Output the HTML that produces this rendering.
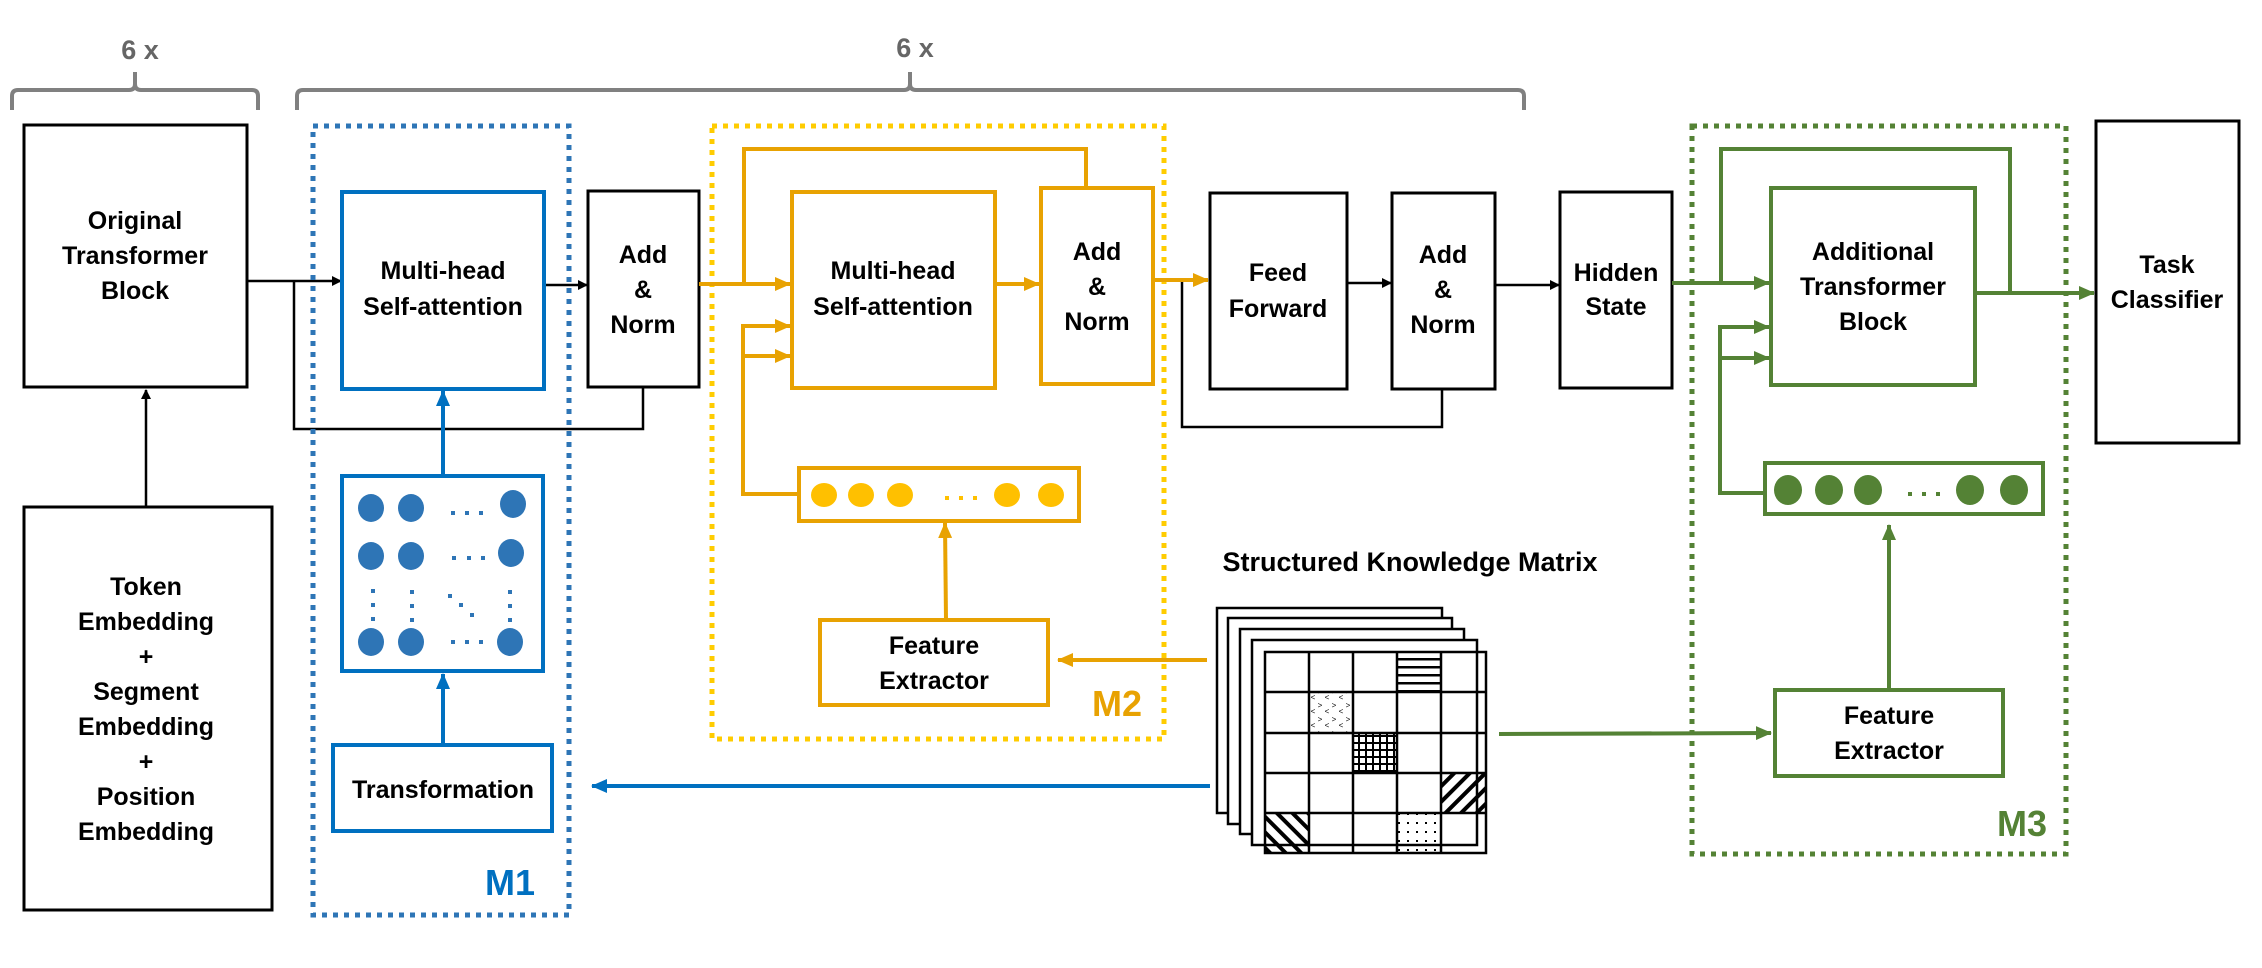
<!DOCTYPE html>
<html><head><meta charset="utf-8"><style>
html,body{margin:0;padding:0;background:#fff;}
svg{display:block;}
text{font-family:"Liberation Sans",sans-serif;font-weight:bold;text-anchor:middle;}
</style></head><body>
<svg width="2262" height="968" viewBox="0 0 2262 968" xmlns="http://www.w3.org/2000/svg">
<defs>
<marker id="ak" markerWidth="10" markerHeight="10" refX="9" refY="5" orient="auto" markerUnits="userSpaceOnUse"><path d="M0,0 L10,5 L0,10 z" fill="#000"/></marker>
<marker id="ab" markerWidth="16" markerHeight="14" refX="15" refY="7" orient="auto" markerUnits="userSpaceOnUse"><path d="M0,0 L16,7 L0,14 z" fill="#0070c0"/></marker>
<marker id="ao" markerWidth="16" markerHeight="14" refX="15" refY="7" orient="auto" markerUnits="userSpaceOnUse"><path d="M0,0 L16,7 L0,14 z" fill="#e8a202"/></marker>
<marker id="ag" markerWidth="16" markerHeight="14" refX="15" refY="7" orient="auto" markerUnits="userSpaceOnUse"><path d="M0,0 L16,7 L0,14 z" fill="#548235"/></marker>
<pattern id="phl" width="8" height="8" patternUnits="userSpaceOnUse"><rect width="8" height="2.5" y="2" fill="#000"/></pattern>
<pattern id="pgrid" width="7" height="7" patternUnits="userSpaceOnUse"><rect width="7" height="2" fill="#000"/><rect width="2" height="7" fill="#000"/></pattern>
<pattern id="pd1" width="11" height="11" patternUnits="userSpaceOnUse" patternTransform="rotate(45)"><rect width="11" height="4" fill="#000"/></pattern>
<pattern id="pd2" width="11" height="11" patternUnits="userSpaceOnUse" patternTransform="rotate(-45)"><rect width="11" height="4" fill="#000"/></pattern>
<pattern id="pdot" width="9" height="9" patternUnits="userSpaceOnUse"><rect x="3" y="3" width="2" height="2" fill="#000"/></pattern>
<pattern id="pchev" width="14" height="14" patternUnits="userSpaceOnUse"><text x="4" y="8" style="font-size:8px;font-weight:normal">&gt;</text><text x="11" y="14" style="font-size:8px;font-weight:normal">&lt;</text></pattern>
</defs>

<g fill="none" stroke="#808080" stroke-width="4">
<path d="M12,110 V96 Q12,90 18,90 H129 Q135,90 135,84 V72 M135,84 Q135,90 141,90 H252 Q258,90 258,96 V110"/>
<path d="M297,110 V96 Q297,90 303,90 H904 Q910,90 910,84 V72 M910,84 Q910,90 916,90 H1518 Q1524,90 1524,96 V110"/>
</g>
<text x="140" y="59" fill="#666" style="font-size:27px">6 x</text>
<text x="915" y="57" fill="#666" style="font-size:27px">6 x</text>

<g fill="none" stroke="#000" stroke-width="3">
<rect x="24" y="125" width="223" height="262"/>
<rect x="24" y="507" width="248" height="403"/>
<rect x="588" y="191" width="111" height="196"/>
<rect x="1210" y="193" width="137" height="196"/>
<rect x="1392" y="193" width="103" height="196"/>
<rect x="1560" y="192" width="112" height="196"/>
<rect x="2096" y="121" width="143" height="322"/>
</g>
<g style="font-size:25px" fill="#000">
<text x="135" y="229">Original</text><text x="135" y="264">Transformer</text><text x="135" y="299">Block</text>
<text x="146" y="595">Token</text><text x="146" y="630">Embedding</text><text x="146" y="665">+</text><text x="146" y="700">Segment</text><text x="146" y="735">Embedding</text><text x="146" y="770">+</text><text x="146" y="805">Position</text><text x="146" y="840">Embedding</text>
<text x="643" y="263">Add</text><text x="643" y="298">&amp;</text><text x="643" y="333">Norm</text>
<text x="1278" y="281">Feed</text><text x="1278" y="317">Forward</text>
<text x="1443" y="263">Add</text><text x="1443" y="298">&amp;</text><text x="1443" y="333">Norm</text>
<text x="1616" y="281">Hidden</text><text x="1616" y="315">State</text>
<text x="2167" y="273">Task</text><text x="2167" y="308">Classifier</text>
</g>

<g fill="none" stroke="#000" stroke-width="2.5">
<line x1="146" y1="507" x2="146" y2="390" marker-end="url(#ak)"/>
<line x1="247" y1="281" x2="341" y2="281" marker-end="url(#ak)"/>
<polyline points="294,281 294,429 643,429 643,387"/>
<line x1="544" y1="285" x2="587" y2="285" marker-end="url(#ak)"/>
<polyline points="1182,280 1182,427 1442,427 1442,389"/>
<line x1="1347" y1="283" x2="1391" y2="283" marker-end="url(#ak)"/>
<line x1="1495" y1="285" x2="1559" y2="285" marker-end="url(#ak)"/>
</g>

<rect x="313" y="126" width="256" height="789" fill="none" stroke="#2e75b6" stroke-width="5" stroke-dasharray="5,6"/>
<g fill="none" stroke="#0070c0" stroke-width="4">
<rect x="342" y="192" width="202" height="197"/>
<rect x="342" y="476" width="201" height="195"/>
<rect x="333" y="745" width="219" height="86"/>
<line x1="443" y1="476" x2="443" y2="391" marker-end="url(#ab)"/>
<line x1="443" y1="745" x2="443" y2="674" marker-end="url(#ab)"/>
<line x1="1210" y1="786" x2="592" y2="786" marker-end="url(#ab)"/>
</g>
<g style="font-size:25px" fill="#000">
<text x="443" y="279">Multi-head</text><text x="443" y="315">Self-attention</text>
<text x="443" y="798">Transformation</text>
</g>
<text x="510" y="895" fill="#0070c0" style="font-size:36px">M1</text>
<g fill="#2e75b6">
<ellipse cx="371" cy="508" rx="13" ry="14"/><ellipse cx="411" cy="508" rx="13" ry="14"/><ellipse cx="513" cy="504" rx="13" ry="14"/>
<ellipse cx="371" cy="556" rx="13" ry="14"/><ellipse cx="411" cy="556" rx="13" ry="14"/><ellipse cx="511" cy="553" rx="13" ry="14"/>
<ellipse cx="371" cy="642" rx="13" ry="14"/><ellipse cx="411" cy="642" rx="13" ry="14"/><ellipse cx="510" cy="642" rx="13" ry="14"/>
<rect x="451" y="511" width="4" height="4"/><rect x="465" y="511" width="4" height="4"/><rect x="479" y="511" width="4" height="4"/>
<rect x="452" y="556" width="4" height="4"/><rect x="467" y="556" width="4" height="4"/><rect x="481" y="556" width="4" height="4"/>
<rect x="451" y="640" width="4" height="4"/><rect x="465" y="640" width="4" height="4"/><rect x="479" y="640" width="4" height="4"/>
<rect x="371" y="589" width="4" height="4"/><rect x="371" y="603" width="4" height="4"/><rect x="371" y="617" width="4" height="4"/>
<rect x="410" y="590" width="4" height="4"/><rect x="410" y="604" width="4" height="4"/><rect x="410" y="618" width="4" height="4"/>
<rect x="508" y="590" width="4" height="4"/><rect x="508" y="604" width="4" height="4"/><rect x="508" y="618" width="4" height="4"/>
<rect x="448" y="594" width="4" height="4"/><rect x="459" y="603" width="4" height="4"/><rect x="470" y="613" width="4" height="4"/>
</g>

<rect x="712" y="126" width="452" height="613" fill="none" stroke="#ffcc00" stroke-width="5" stroke-dasharray="5,6"/>
<g fill="none" stroke="#e8a202" stroke-width="4">
<rect x="792" y="192" width="203" height="196"/>
<rect x="1041" y="188" width="112" height="196"/>
<rect x="799" y="468" width="280" height="53"/>
<rect x="820" y="620" width="228" height="85"/>
<line x1="699" y1="284" x2="790" y2="284" marker-end="url(#ao)"/>
<polyline points="744,284 744,149 1086,149 1086,188"/>
<line x1="995" y1="284" x2="1039" y2="284" marker-end="url(#ao)"/>
<polyline points="799,494 743,494 743,326 790,326" marker-end="url(#ao)"/>
<line x1="743" y1="356" x2="790" y2="356" marker-end="url(#ao)"/>
<line x1="946" y1="620" x2="945" y2="523" marker-end="url(#ao)"/>
<line x1="1207" y1="660" x2="1058" y2="660" marker-end="url(#ao)"/>
<line x1="1153" y1="280" x2="1208" y2="280" marker-end="url(#ao)"/>
</g>
<g style="font-size:25px" fill="#000">
<text x="893" y="279">Multi-head</text><text x="893" y="315">Self-attention</text>
<text x="1097" y="260">Add</text><text x="1097" y="295">&amp;</text><text x="1097" y="330">Norm</text>
<text x="934" y="654">Feature</text><text x="934" y="689">Extractor</text>
</g>
<text x="1117" y="716" fill="#e8a202" style="font-size:36px">M2</text>
<g fill="#ffc000">
<ellipse cx="824" cy="495" rx="13" ry="12"/><ellipse cx="861" cy="495" rx="13" ry="12"/><ellipse cx="900" cy="495" rx="13" ry="12"/>
<ellipse cx="1007" cy="495" rx="13" ry="12"/><ellipse cx="1051" cy="495" rx="13" ry="12"/>
<rect x="945" y="496" width="4" height="4"/><rect x="959" y="496" width="4" height="4"/><rect x="973" y="496" width="4" height="4"/>
</g>

<text x="1410" y="571" fill="#000" style="font-size:27px">Structured Knowledge Matrix</text>
<g stroke="#000" stroke-width="2.5" fill="#fff">
<rect x="1217" y="608" width="225" height="205"/>
<rect x="1228" y="618" width="224" height="206"/>
<rect x="1240" y="629" width="224" height="205"/>
<rect x="1252" y="640" width="225" height="205"/>
</g>
<g stroke="none">
<rect x="1397" y="652" width="44" height="40" fill="url(#phl)"/>
<rect x="1309" y="692" width="44" height="41" fill="url(#pchev)"/>
<rect x="1353" y="733" width="44" height="40" fill="url(#pgrid)"/>
<rect x="1441" y="773" width="45" height="40" fill="url(#pd2)"/>
<rect x="1265" y="813" width="44" height="40" fill="url(#pd1)"/>
<rect x="1397" y="813" width="44" height="40" fill="url(#pdot)"/>
</g>
<g stroke="#000" stroke-width="2.5" fill="none">
<rect x="1265" y="652" width="221" height="201"/>
<line x1="1309" y1="652" x2="1309" y2="853"/><line x1="1353" y1="652" x2="1353" y2="853"/><line x1="1397" y1="652" x2="1397" y2="853"/><line x1="1441" y1="652" x2="1441" y2="853"/>
<line x1="1265" y1="692" x2="1486" y2="692"/><line x1="1265" y1="733" x2="1486" y2="733"/><line x1="1265" y1="773" x2="1486" y2="773"/><line x1="1265" y1="813" x2="1486" y2="813"/>
</g>

<rect x="1692" y="126" width="374" height="728" fill="none" stroke="#548235" stroke-width="5" stroke-dasharray="5,6"/>
<g fill="none" stroke="#548235" stroke-width="4">
<rect x="1771" y="188" width="204" height="197"/>
<rect x="1765" y="463" width="278" height="51"/>
<rect x="1775" y="690" width="228" height="86"/>
<line x1="1672" y1="283" x2="1769" y2="283" marker-end="url(#ag)"/>
<polyline points="1721,283 1721,149 2010,149 2010,293"/>
<line x1="1975" y1="293" x2="2094" y2="293" marker-end="url(#ag)"/>
<polyline points="1765,493 1720,493 1720,327 1769,327" marker-end="url(#ag)"/>
<line x1="1720" y1="358" x2="1769" y2="358" marker-end="url(#ag)"/>
<line x1="1889" y1="690" x2="1889" y2="525" marker-end="url(#ag)"/>
<line x1="1499" y1="734" x2="1771" y2="733" marker-end="url(#ag)"/>
</g>
<g style="font-size:25px" fill="#000">
<text x="1873" y="260">Additional</text><text x="1873" y="295">Transformer</text><text x="1873" y="330">Block</text>
<text x="1889" y="724">Feature</text><text x="1889" y="759">Extractor</text>
</g>
<text x="2022" y="836" fill="#548235" style="font-size:36px">M3</text>
<g fill="#548235">
<ellipse cx="1788" cy="490" rx="14" ry="15"/><ellipse cx="1829" cy="490" rx="14" ry="15"/><ellipse cx="1868" cy="490" rx="14" ry="15"/>
<ellipse cx="1970" cy="490" rx="14" ry="15"/><ellipse cx="2014" cy="490" rx="14" ry="15"/>
<rect x="1908" y="492" width="4" height="4"/><rect x="1922" y="492" width="4" height="4"/><rect x="1936" y="492" width="4" height="4"/>
</g>
</svg>
</body></html>
